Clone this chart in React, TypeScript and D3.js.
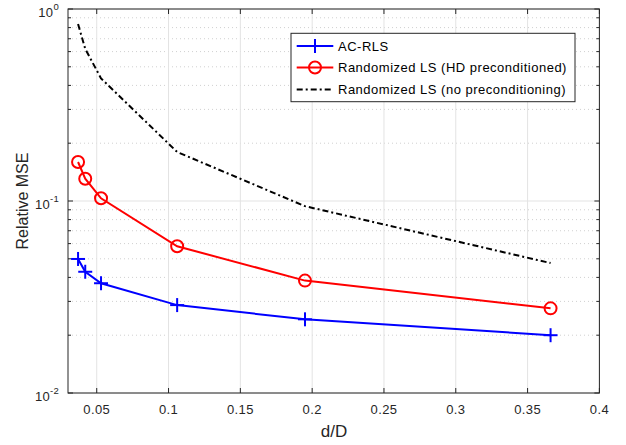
import React from "react";
import * as d3 from "d3";

const xValues = [0.037, 0.042, 0.053, 0.106, 0.195, 0.366];
const acRls = [0.0499, 0.0428, 0.0373, 0.0287, 0.0242, 0.0200];
const hdLs = [0.1596, 0.1306, 0.1033, 0.0581, 0.0385, 0.0276];
const noPreLs = [0.835, 0.62, 0.435, 0.18, 0.094, 0.0475];
const xTicks = [0.05, 0.1, 0.15, 0.2, 0.25, 0.3, 0.35, 0.4];
const yDecades = [1e-2, 1e-1, 1];
const yExp = ["-2", "-1", "0"];
const legendLabels = ["AC-RLS", "Randomized LS (HD preconditioned)", "Randomized LS (no preconditioning)"];

const W = 626, H = 445;
const L = 68, R = 599.4, T = 9, B = 393;
const FONT = "'Liberation Sans', Arial, Helvetica, sans-serif";

export default function App() {
  const x = d3.scaleLinear().domain([0.03, 0.4]).range([L, R]);
  const y = d3.scaleLog().domain([0.01, 1]).range([B, T]);
  const line = d3.line<[number, number]>().x(d => x(d[0])).y(d => y(d[1]));
  const minor: number[] = [];
  for (const dec of [0.01, 0.1]) for (let k = 2; k <= 9; k++) minor.push(dec * k);
  const pts = (arr: number[]) => xValues.map((v, i) => [v, arr[i]] as [number, number]);
  const axisColor = "#262626";
  const tickLen = 5;
  return (
    <svg width={W} height={H} style={{ position: "absolute", left: 0, top: 0, background: "#fff" }}>
      <rect x={0} y={0} width={W} height={H} fill="#fff" />
      {/* grid */}
      {minor.map((m, i) => (
        <line key={"mg" + i} x1={L} x2={R} y1={y(m)} y2={y(m)} stroke="#d0d0d0" strokeWidth={1} strokeDasharray="1,3" />
      ))}
      {yDecades.map((m, i) => (
        <line key={"yg" + i} x1={L} x2={R} y1={y(m)} y2={y(m)} stroke="#e3e3e3" strokeWidth={1} />
      ))}
      {xTicks.map((t, i) => (
        <line key={"xg" + i} x1={x(t)} x2={x(t)} y1={T} y2={B} stroke="#e3e3e3" strokeWidth={1} />
      ))}
      {/* axes box */}
      <rect x={L} y={T} width={R - L} height={B - T} fill="none" stroke={axisColor} strokeWidth={1} />
      {xTicks.map((t, i) => (
        <g key={"xt" + i}>
          <line x1={x(t)} x2={x(t)} y1={B} y2={B - tickLen} stroke={axisColor} />
          <line x1={x(t)} x2={x(t)} y1={T} y2={T + tickLen} stroke={axisColor} />
          <text x={x(t)} y={413.5} textAnchor="middle" fontFamily={FONT} fontSize={13} letterSpacing={0.4} fill={axisColor}>{String(t)}</text>
        </g>
      ))}
      {minor.map((m, i) => (
        <g key={"ymt" + i}>
          <line x1={L} x2={L + 3} y1={y(m)} y2={y(m)} stroke={axisColor} />
          <line x1={R} x2={R - 3} y1={y(m)} y2={y(m)} stroke={axisColor} />
        </g>
      ))}
      {yDecades.map((m, i) => (
        <g key={"yt" + i}>
          <line x1={L} x2={L + tickLen} y1={y(m)} y2={y(m)} stroke={axisColor} />
          <line x1={R} x2={R - tickLen} y1={y(m)} y2={y(m)} stroke={axisColor} />
          <text x={59} y={y(m) + 7.5} textAnchor="end" fontFamily={FONT} fontSize={13} letterSpacing={0.3} fill={axisColor}>
            10<tspan dy={-7} fontSize={9.5}>{yExp[i]}</tspan>
          </text>
        </g>
      ))}
      <text x={334} y={437} textAnchor="middle" fontFamily={FONT} fontSize={17} fill={axisColor}>d/D</text>
      <text transform={`translate(28,${(T + B) / 2}) rotate(-90)`} textAnchor="middle" fontFamily={FONT} fontSize={16} fill={axisColor}>Relative MSE</text>
      {/* series */}
      <path d={line(pts(noPreLs)) || ""} fill="none" stroke="#000" strokeWidth={2} strokeDasharray="6,3,2,3" />
      <path d={line(pts(hdLs)) || ""} fill="none" stroke="#ff0000" strokeWidth={2} />
      {pts(hdLs).map((p, i) => (
        <circle key={"c" + i} cx={x(p[0])} cy={y(p[1])} r={6} fill="none" stroke="#ff0000" strokeWidth={2} />
      ))}
      <path d={line(pts(acRls)) || ""} fill="none" stroke="#0000ff" strokeWidth={2} />
      {pts(acRls).map((p, i) => (
        <g key={"p" + i} stroke="#0000ff" strokeWidth={2}>
          <line x1={x(p[0]) - 7} x2={x(p[0]) + 7} y1={y(p[1])} y2={y(p[1])} />
          <line x1={x(p[0])} x2={x(p[0])} y1={y(p[1]) - 7} y2={y(p[1]) + 7} />
        </g>
      ))}
      {/* legend */}
      <rect x={291} y={33.3} width={284} height={68.4} fill="#fff" stroke={axisColor} strokeWidth={1} />
      {legendLabels.map((lab, i) => {
        const ly = [46, 67.5, 89.5][i];
        return (
          <g key={"lg" + i}>
            {i === 0 && (
              <g stroke="#0000ff" strokeWidth={2}>
                <line x1={296.7} x2={333.3} y1={ly} y2={ly} />
                <line x1={315} x2={315} y1={ly - 7} y2={ly + 7} />
              </g>
            )}
            {i === 1 && (
              <g stroke="#ff0000" strokeWidth={2} fill="none">
                <line x1={296.7} x2={333.3} y1={ly} y2={ly} />
                <circle cx={315} cy={ly} r={6} fill="none" />
              </g>
            )}
            {i === 2 && (
              <line x1={296.7} x2={333.3} y1={ly} y2={ly} stroke="#000" strokeWidth={2} strokeDasharray="6,3,2,3" />
            )}
            <text x={338} y={ly + 4.7} fontFamily={FONT} fontSize={13} letterSpacing={0.5} fill="#000">{lab}</text>
          </g>
        );
      })}
    </svg>
  );
}
